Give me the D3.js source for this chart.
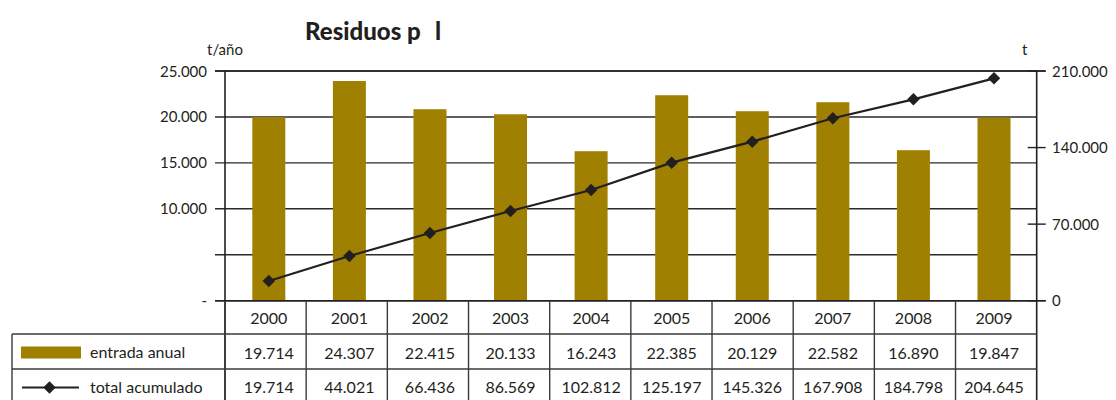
<!DOCTYPE html>
<html><head><meta charset="utf-8">
<script src="https://cdn.jsdelivr.net/npm/d3@7"></script>
<style>body{margin:0;background:#fff}svg{display:block}text{font-family:Lato,"Open Sans",sans-serif;fill:#231f20}</style>
</head><body><div id="chart"></div>
<script>
const years = ["2000","2001","2002","2003","2004","2005","2006","2007","2008","2009"];
// bar heights as drawn in the picture (t/año)
const entradaBars = [19990, 23910, 20840, 20290, 16270, 22360, 20620, 21600, 16380, 19940];
// cumulative line as drawn in the picture (t)
const acumuladoLine = [18000, 40900, 61900, 82000, 101200, 126200, 145400, 166800, 184100, 203300];
// table values
const entradaLabels = ["19.714","24.307","22.415","20.133","16.243","22.385","20.129","22.582","16.890","19.847"];
const acumuladoLabels = ["19.714","44.021","66.436","86.569","102.812","125.197","145.326","167.908","184.798","204.645"];
const leftTicks = [0, 5000, 10000, 15000, 20000, 25000];
const leftTickLabels = ["-", "", "10.000", "15.000", "20.000", "25.000"];
const rightTicks = [0, 70000, 140000, 210000];
const rightTickLabels = ["0", "70.000", "140.000", "210.000"];

const W = 1116, H = 400;
const L = 225, R = 1036.7, T = 71, B = 300.7;
const barColor = "#a08000", ink = "#231f20";

const svg = d3.select("#chart").append("svg").attr("width", W).attr("height", H);

const xCol = d3.scaleBand().domain(years).range([L, R]).padding(0);
const xPt = d3.scalePoint().domain(years).range([268.8, 994]);
const yL = d3.scaleLinear().domain([0, 25000]).range([B, T]);
const yR = d3.scaleLinear().domain([0, 210000]).range([B, T]);

// gridlines (left axis ticks)
svg.append("g").selectAll("line").data(leftTicks).join("line")
  .attr("x1", L - 10).attr("x2", R).attr("y1", d => yL(d)).attr("y2", d => yL(d))
  .attr("stroke", "#2a2a2a").attr("stroke-width", 1.4);
svg.append("g").selectAll("text").data(leftTicks).join("text")
  .attr("x", 207).attr("y", d => yL(d) + 5.5).attr("text-anchor", "end")
  .attr("font-size", 15).text((d, i) => leftTickLabels[i]);

// bars
const bw = 33;
svg.append("g").selectAll("rect").data(years).join("rect")
  .attr("x", d => xPt(d) - bw / 2).attr("width", bw)
  .attr("y", (d, i) => yL(entradaBars[i])).attr("height", (d, i) => B - yL(entradaBars[i]))
  .attr("fill", barColor);

// axes lines
svg.append("line").attr("x1", L).attr("x2", L).attr("y1", T).attr("y2", H)
  .attr("stroke", ink).attr("stroke-width", 1.6);
svg.append("line").attr("x1", R).attr("x2", R).attr("y1", T).attr("y2", H)
  .attr("stroke", ink).attr("stroke-width", 1.6);
svg.append("line").attr("x1", L - 10).attr("x2", R + 9).attr("y1", B).attr("y2", B)
  .attr("stroke", ink).attr("stroke-width", 1.6);
svg.append("line").attr("x1", L - 10).attr("x2", R + 9).attr("y1", T).attr("y2", T)
  .attr("stroke", ink).attr("stroke-width", 1.6);

// right axis
svg.append("g").selectAll("line").data(rightTicks).join("line")
  .attr("x1", R - 9).attr("x2", R + 9).attr("y1", d => yR(d)).attr("y2", d => yR(d))
  .attr("stroke", ink).attr("stroke-width", 1.4);
svg.append("g").selectAll("text").data(rightTicks).join("text")
  .attr("x", 1052).attr("y", d => yR(d) + 5.5).attr("text-anchor", "start")
  .attr("font-size", 15).text((d, i) => rightTickLabels[i]);

// line + markers
const line = d3.line().x((d, i) => xPt(years[i])).y(d => yR(d));
svg.append("path").datum(acumuladoLine).attr("d", line)
  .attr("fill", "none").attr("stroke", ink).attr("stroke-width", 2.2);
const diamond = d3.symbol().type(d3.symbolDiamond2).size(100);
svg.append("g").selectAll("path").data(acumuladoLine).join("path")
  .attr("transform", (d, i) => `translate(${xPt(years[i])},${yR(d)})`)
  .attr("d", diamond).attr("fill", ink);

// titles
svg.append("text").attr("x", 305).attr("y", 40).attr("font-size", 24).attr("font-weight", 900)
  .text("Residuos p");
svg.append("text").attr("x", 435).attr("y", 40).attr("font-size", 24).attr("font-weight", 900)
  .text("l");
svg.append("text").attr("x", 207).attr("y", 55).attr("font-size", 15).text("t/año");
svg.append("text").attr("x", 1022).attr("y", 55).attr("font-size", 15).text("t");

// table
const rowY = [B, 334, 369, 404];
const tg = svg.append("g").attr("stroke", "#3a3a3a").attr("stroke-width", 1.4);
xCol.domain().forEach(d => {
  tg.append("line").attr("x1", xCol(d)).attr("x2", xCol(d)).attr("y1", B).attr("y2", H);
});
tg.append("line").attr("x1", 12).attr("x2", R).attr("y1", rowY[1]).attr("y2", rowY[1]);
tg.append("line").attr("x1", 12).attr("x2", R).attr("y1", rowY[2]).attr("y2", rowY[2]);
tg.append("line").attr("x1", 12).attr("x2", 12).attr("y1", rowY[1]).attr("y2", H);

svg.append("g").selectAll("text").data(years).join("text")
  .attr("x", d => xPt(d)).attr("y", 324).attr("text-anchor", "middle").attr("font-size", 16).text(d => d);
svg.append("g").selectAll("text").data(entradaLabels).join("text")
  .attr("x", (d, i) => xPt(years[i])).attr("y", 359).attr("text-anchor", "middle").attr("font-size", 16).text(d => d);
svg.append("g").selectAll("text").data(acumuladoLabels).join("text")
  .attr("x", (d, i) => xPt(years[i])).attr("y", 393).attr("text-anchor", "middle").attr("font-size", 16).text(d => d);

// legend cells
svg.append("rect").attr("x", 21).attr("y", 346.5).attr("width", 60).attr("height", 12).attr("fill", barColor);
svg.append("text").attr("x", 90).attr("y", 358).attr("font-size", 16).text("entrada anual");
svg.append("line").attr("x1", 22).attr("x2", 79).attr("y1", 387.5).attr("y2", 387.5)
  .attr("stroke", ink).attr("stroke-width", 2.2);
svg.append("path").attr("transform", "translate(49.5,387.5)").attr("d", diamond).attr("fill", ink);
svg.append("text").attr("x", 90).attr("y", 393).attr("font-size", 16).text("total acumulado");
</script></body></html>
